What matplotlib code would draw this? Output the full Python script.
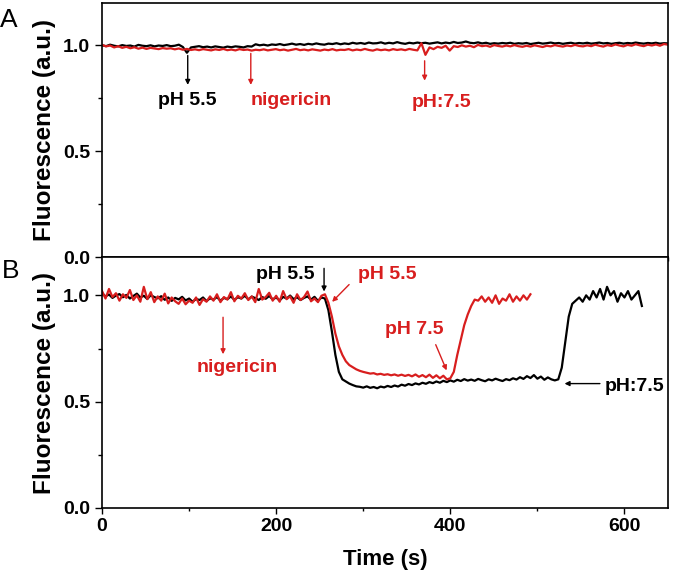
import numpy as np
import matplotlib
matplotlib.use('Agg')
import matplotlib.pyplot as plt
from matplotlib.ticker import MultipleLocator, FormatStrFormatter

params = {'font.family': ['Liberation Sans', 'DejaVu Sans'],
          'font.weight': 'bold',
          'axes.linewidth': 1.2,
          'xtick.labelsize': 14,
          'ytick.labelsize': 14,
          }
matplotlib.rcParams.update(params)

## Panel A data (time step 5 s, 0-700 s)
time_a = np.arange(0, 701, 5)
black_a = [1.000, 0.996, 1.003, 0.998, 0.995, 1.001, 0.997, 0.999, 0.994, 1.002,
           0.998, 0.996, 1.000, 0.995, 0.999, 0.997, 1.001, 0.996, 0.998, 1.003,
           0.992, 0.965, 0.990, 0.993, 0.996, 0.991, 0.994, 0.990, 0.995, 0.992,
           0.989, 0.994, 0.991, 0.995, 0.993, 0.990, 0.996, 0.994,
           1.005, 1.000, 1.003, 0.999, 1.004, 1.002, 1.006, 1.001, 1.004, 1.008,
           1.003, 1.006, 1.002, 1.007, 1.004, 1.009, 1.005, 1.003, 1.008, 1.006,
           1.010, 1.005,
           1.009, 1.006, 1.012, 1.008, 1.011, 1.007, 1.013, 1.009, 1.010, 1.014,
           1.008, 1.012, 1.009, 1.015, 1.010, 1.007, 1.012, 1.009, 1.013, 1.010,
           1.012, 1.008, 1.011, 1.014, 1.009, 1.013, 1.010, 1.016, 1.011, 1.013,
           1.018, 1.012, 1.010, 1.014, 1.009, 1.012, 1.007, 1.010, 1.008, 1.011,
           1.009, 1.012, 1.007, 1.010, 1.008, 1.011, 1.006, 1.009, 1.012, 1.008,
           1.010, 1.013, 1.009, 1.011, 1.007, 1.010, 1.012, 1.008, 1.011, 1.009,
           1.012, 1.008, 1.010, 1.013, 1.009, 1.011, 1.007, 1.010, 1.012, 1.008,
           1.011, 1.009, 1.013, 1.010, 1.008, 1.011, 1.009, 1.012, 1.008, 1.010,
           1.009]
red_a = [1.002, 0.995, 0.999, 0.990, 0.996, 0.988, 0.993, 0.986, 0.991, 0.984,
         0.989, 0.983, 0.988, 0.985, 0.982, 0.987, 0.984, 0.986, 0.981, 0.985,
         0.979, 0.983, 0.978, 0.981, 0.977, 0.982, 0.979, 0.976, 0.981, 0.978,
         0.983, 0.977, 0.980, 0.976, 0.982, 0.978, 0.980, 0.975, 0.979, 0.977,
         0.981, 0.976, 0.979, 0.982, 0.977, 0.980, 0.975, 0.979, 0.983, 0.977,
         0.980, 0.976, 0.981, 0.978, 0.975, 0.980, 0.977, 0.982, 0.976, 0.979,
         0.978, 0.982, 0.976, 0.980, 0.977, 0.983, 0.978, 0.975, 0.981, 0.977,
         0.980, 0.976, 0.982, 0.978, 0.981, 0.977, 0.983, 0.979, 0.976, 1.010,
         0.955, 0.990, 0.982, 0.993, 0.988, 0.998, 0.975, 0.996, 0.992, 1.000,
         0.994, 0.998, 0.991, 1.002, 0.996, 0.999, 0.993, 1.001, 0.997, 0.994,
         0.999, 0.995, 1.001, 0.996, 0.993, 0.998, 0.994, 1.000, 0.996, 0.992,
         0.998, 0.995, 1.001, 0.997, 0.994, 0.999, 0.996, 1.002, 0.997, 0.995,
         1.000, 0.996, 1.003, 0.998, 0.994, 1.001, 0.997, 1.004, 0.999, 0.995,
         1.002, 0.998, 1.005, 1.000, 0.996, 1.003, 0.999, 1.004, 0.998, 1.006,
         1.003]

## Panel B data (time step 4 s)
time_b_black = np.arange(0, 621, 4)
black_b = [1.010, 0.995, 1.004, 0.988, 0.999, 1.006, 0.991, 1.002, 0.985, 0.997,
           1.008, 0.990, 0.998, 0.983, 1.001, 0.992,
           0.986, 0.996, 0.979, 0.990, 0.974, 0.988, 0.981, 0.993, 0.976, 0.985,
           0.970, 0.983, 0.978, 0.990, 0.973, 0.986,
           0.980, 0.992, 0.975, 0.988, 0.982, 0.995, 0.979, 0.991, 0.985, 0.998,
           0.981, 0.994, 0.987, 0.978, 0.992, 0.984,
           0.997, 0.981, 0.990, 0.976, 0.993, 0.985, 0.999, 0.982, 0.991, 0.978,
           0.988, 0.995, 0.980, 0.993, 0.974, 0.990,
           0.985, 0.930, 0.830, 0.720, 0.640, 0.605, 0.595, 0.585, 0.578, 0.572,
           0.570, 0.566, 0.572, 0.565, 0.569, 0.563, 0.571, 0.567, 0.574, 0.569,
           0.576, 0.571, 0.580, 0.575, 0.583, 0.578, 0.586, 0.581, 0.589, 0.584,
           0.592, 0.587, 0.595, 0.589, 0.598, 0.592,
           0.600, 0.594, 0.603, 0.597, 0.606, 0.599, 0.604, 0.598, 0.607, 0.601,
           0.596, 0.605, 0.600, 0.608, 0.602, 0.597, 0.606, 0.601, 0.610, 0.604,
           0.615, 0.607, 0.620, 0.611, 0.625, 0.608, 0.618, 0.603, 0.614, 0.605,
           0.600,
           0.605, 0.660, 0.780, 0.900, 0.960, 0.975, 0.990, 0.970, 1.000, 0.980,
           1.020, 0.990, 1.030, 0.980, 1.040, 1.000, 1.020, 0.970, 1.010, 0.990,
           1.020, 0.980, 1.000, 1.020, 0.950]
time_b_red = np.arange(0, 493, 4)
red_b = [1.020, 0.985, 1.030, 0.992, 1.010, 0.975, 1.005, 0.988, 1.025, 0.978,
         1.000, 0.970, 1.040, 0.982, 1.015, 0.968,
         0.995, 0.975, 1.008, 0.962, 0.990, 0.972, 0.960, 0.985, 0.958, 0.975,
         0.965, 0.990, 0.955, 0.982, 0.970, 0.995,
         0.975, 1.005, 0.968, 0.992, 0.980, 1.015, 0.972, 0.998, 0.985, 1.010,
         0.978, 0.995, 0.968, 1.030, 0.980, 0.992,
         1.012, 0.975, 0.998, 0.970, 1.020, 0.982, 0.995, 0.965, 1.005, 0.978,
         0.992, 1.018, 0.972, 0.985, 0.968, 0.998,
         1.005, 0.965, 0.900, 0.820, 0.760, 0.720, 0.690, 0.672, 0.662, 0.652,
         0.645, 0.640, 0.636, 0.632, 0.634, 0.628, 0.631, 0.626, 0.629, 0.624,
         0.628, 0.622, 0.627, 0.621, 0.626, 0.619, 0.628, 0.617, 0.625, 0.615,
         0.627, 0.612, 0.624, 0.610, 0.622, 0.605,
         0.610, 0.640, 0.720, 0.790, 0.860, 0.910, 0.950, 0.980, 0.975, 0.995,
         0.970, 0.990, 0.965, 1.000, 0.960, 0.985, 0.975, 1.005, 0.970, 0.995,
         0.975, 1.000, 0.980, 1.005]

RED = '#d81e1e'
LW = 1.6
ANN = 14

fig = plt.figure(figsize=(6.77, 5.70), dpi=100)
ax_a = fig.add_axes([0.1507, 0.549, 0.836, 0.4458])
ax_b = fig.add_axes([0.1507, 0.1088, 0.836, 0.4402])

## Panel A
ax_a.plot(time_a, black_a, color='k', lw=LW)
ax_a.plot(time_a, red_a, color=RED, lw=LW)
ax_a.set_xlim(0, 700)
ax_a.set_ylim(0, 1.2)
ax_a.xaxis.set_major_locator(MultipleLocator(100))
ax_a.set_xticklabels([])
ax_a.tick_params(axis='x', direction='out', length=3, width=1)

ax_a.annotate('', xy=(106, 0.80), xytext=(106, 0.965),
              arrowprops=dict(arrowstyle='-|>', color='k', lw=1, mutation_scale=7))
ax_a.text(106, 0.74, 'pH 5.5', ha='center', va='center', fontsize=ANN, fontweight='bold')
ax_a.annotate('', xy=(184, 0.80), xytext=(184, 0.975),
              arrowprops=dict(arrowstyle='-|>', color=RED, lw=1, mutation_scale=7))
ax_a.text(184, 0.74, 'nigericin', ha='left', va='center', fontsize=ANN,
          fontweight='bold', color=RED)
ax_a.annotate('', xy=(399, 0.82), xytext=(399, 0.94),
              arrowprops=dict(arrowstyle='-|>', color=RED, lw=1, mutation_scale=7))
ax_a.text(420, 0.73, 'pH:7.5', ha='center', va='center', fontsize=ANN,
          fontweight='bold', color=RED)

## Panel B
ax_b.plot(time_b_black, black_b, color='k', lw=LW)
ax_b.plot(time_b_red, red_b, color=RED, lw=LW)
ax_b.set_xlim(0, 650)
ax_b.set_ylim(0, 1.18)
ax_b.xaxis.set_major_locator(MultipleLocator(200))
ax_b.xaxis.set_minor_locator(MultipleLocator(100))
ax_b.tick_params(axis='x', which='major', direction='out', length=4, width=1)
ax_b.tick_params(axis='x', which='minor', direction='out', length=2, width=1)
ax_b.set_xlabel('Time (s)', fontsize=16, fontweight='bold', labelpad=10)

ax_b.annotate('', xy=(255, 1.005), xytext=(255, 1.14),
              arrowprops=dict(arrowstyle='-|>', color='k', lw=1, mutation_scale=7))
ax_b.text(244, 1.10, 'pH 5.5', ha='right', va='center', fontsize=ANN, fontweight='bold')
ax_b.annotate('', xy=(139, 0.71), xytext=(139, 0.91),
              arrowprops=dict(arrowstyle='-|>', color=RED, lw=1, mutation_scale=7))
ax_b.text(155, 0.66, 'nigericin', ha='center', va='center', fontsize=ANN,
          fontweight='bold', color=RED)
ax_b.annotate('', xy=(262, 0.96), xytext=(286, 1.06),
              arrowprops=dict(arrowstyle='-|>', color=RED, lw=1, mutation_scale=7))
ax_b.text(328, 1.10, 'pH 5.5', ha='center', va='center', fontsize=ANN,
          fontweight='bold', color=RED)
ax_b.annotate('', xy=(397, 0.635), xytext=(382, 0.78),
              arrowprops=dict(arrowstyle='-|>', color=RED, lw=1, mutation_scale=7))
ax_b.text(359, 0.84, 'pH 7.5', ha='center', va='center', fontsize=ANN,
          fontweight='bold', color=RED)
ax_b.annotate('', xy=(528, 0.585), xytext=(575, 0.585),
              arrowprops=dict(arrowstyle='-|>', color='k', lw=1, mutation_scale=7))
ax_b.text(611, 0.57, 'pH:7.5', ha='center', va='center', fontsize=ANN, fontweight='bold')

for ax in (ax_a, ax_b):
    ax.yaxis.set_major_locator(MultipleLocator(0.5))
    ax.yaxis.set_minor_locator(MultipleLocator(0.25))
    ax.yaxis.set_major_formatter(FormatStrFormatter('%.1f'))
    ax.tick_params(axis='y', which='major', direction='out', length=5, width=1)
    ax.tick_params(axis='y', which='minor', direction='out', length=3, width=1)
    ax.set_ylabel('Fluorescence (a.u.)', fontsize=17.5, fontweight='bold', labelpad=5)

fig.text(0.0, 0.965, 'A', fontsize=19, fontweight='normal', va='center', ha='left')
fig.text(0.003, 0.525, 'B', fontsize=19, fontweight='normal', va='center', ha='left')

plt.savefig('out.png', dpi=100)
